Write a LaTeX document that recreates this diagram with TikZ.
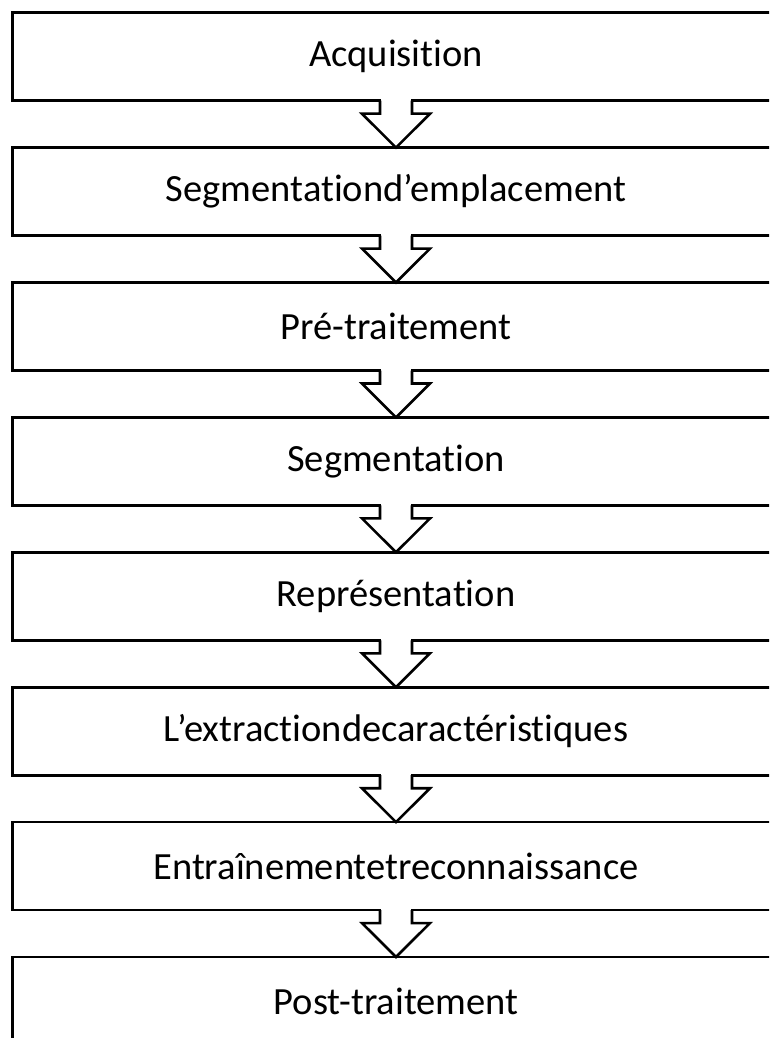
\documentclass[tikz,border=0pt]{standalone}
\usepackage{fontspec}
\setmainfont{Carlito}[Ligatures=NoCommon]
\usetikzlibrary{calc}

% frame of a stage; its right side lies past the edge of the page
\newcommand{\stageframe}[1]{%
  \draw[rim] ($(#1.north east)+(20,0)$) -- (#1.north west) -- (#1.south west)
    -- ($(#1.south east)+(20,0)$);
}

% hollow block arrow from the bottom of one stage to the top of the next
\newcommand{\flowarrow}[2]{%
  \fill[white] ($(#1.south)+(-14.6,-1.6)$) rectangle ($(#1.south)+(14.6,3)$);
  \draw[rim] ($(#1.south)+(-16,0)$) -- ($(#1.south)+(-16,13)$)
    -- ($(#1.south)+(-34,13)$) -- (#2.north)
    -- ($(#1.south)+(34,13)$) -- ($(#1.south)+(16,13)$)
    -- ($(#1.south)+(16,0)$);
}

\begin{document}
\begin{tikzpicture}[x=1pt,y=-1pt,
  stage/.style={rectangle, outer sep=0pt, inner sep=0pt,
    minimum width=766.6pt, minimum height=88pt,
    font=\fontsize{38.5}{44}\selectfont},
  rim/.style={draw, line width=2.6pt, line join=miter}]
\useasboundingbox (0,0) rectangle (769,1038);
\clip (0,0) rectangle (769,1038);
\fill[white] (0,0) rectangle (769,1038);

\node[stage] (s1) at (396,56.7)  {Acquisition};
\node[stage] (s2) at (396,191.6) {Segmentationd’emplacement};
\node[stage] (s3) at (396,326.5) {Pré-traitement};
\node[stage] (s4) at (396,461.4) {Segmentation};
\node[stage] (s5) at (396,596.3) {Représentation};
\node[stage] (s6) at (396,731.2) {L’extractiondecaractéristiques};
\node[stage] (s7) at (396,866.1) {Entraînementetreconnaissance};
\node[stage] (s8) at (396,1001.0) {Post-traitement};

\foreach \s in {s1,s2,s3,s4,s5,s6,s7,s8} {\stageframe{\s}}

\flowarrow{s1}{s2}
\flowarrow{s2}{s3}
\flowarrow{s3}{s4}
\flowarrow{s4}{s5}
\flowarrow{s5}{s6}
\flowarrow{s6}{s7}
\flowarrow{s7}{s8}
\end{tikzpicture}
\end{document}
